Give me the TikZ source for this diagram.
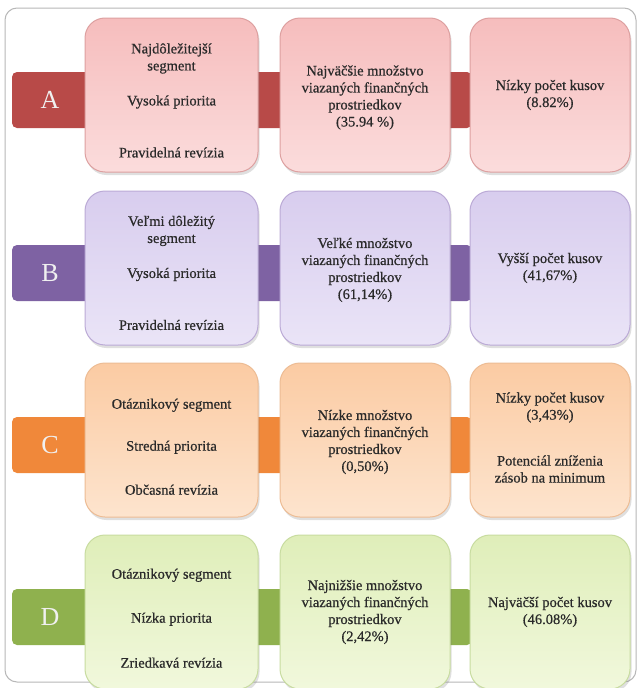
\documentclass[tikz,border=0pt]{standalone}
\usepackage{fontspec}
\setmainfont{Liberation Serif}
\usetikzlibrary{shadows}
\definecolor{txt}{HTML}{2A2A2A}
\definecolor{frameC}{HTML}{B8B8B8}
\definecolor{bandA}{HTML}{B84A48}
\definecolor{bandB}{HTML}{7E62A3}
\definecolor{bandC}{HTML}{F0883A}
\definecolor{bandD}{HTML}{8FB14E}
\definecolor{topA}{HTML}{F6BDBD}\definecolor{botA}{HTML}{FBDCDC}\definecolor{brdA}{HTML}{DDA0A0}
\definecolor{topB}{HTML}{D8CDEE}\definecolor{botB}{HTML}{EAE4F7}\definecolor{brdB}{HTML}{BBAAD6}
\definecolor{topC}{HTML}{FBCBA3}\definecolor{botC}{HTML}{FDE4CE}\definecolor{brdC}{HTML}{EDBC94}
\definecolor{topD}{HTML}{DFEEB9}\definecolor{botD}{HTML}{F1F8DC}\definecolor{brdD}{HTML}{C8DCA0}
\newcommand{\tstrut}[1]{\rule{0pt}{#1pt}}
\tikzset{
  cell/.style={rounded corners=20pt, minimum height=154pt, line width=1pt,
    drop shadow={shadow xshift=1.5pt, shadow yshift=-3pt, opacity=0.25},
    align=center, text=txt, font=\fontsize{14.5}{17}\selectfont\addfontfeatures{FakeBold=0.6}, inner sep=2pt},
  cellA/.style={cell, draw=brdA, top color=topA, bottom color=botA},
  cellB/.style={cell, draw=brdB, top color=topB, bottom color=botB},
  cellC/.style={cell, draw=brdC, top color=topC, bottom color=botC},
  cellD/.style={cell, draw=brdD, top color=topD, bottom color=botD},
  w1/.style={minimum width=173pt},
  w2/.style={minimum width=170pt},
  w3/.style={minimum width=160pt},
  band/.style={rounded corners=5pt, minimum height=56pt, minimum width=460pt, inner sep=0pt},
  letter/.style={font=\fontsize{26}{26}\selectfont, text=white!88!gray},
}
\begin{document}
\begin{tikzpicture}[x=1pt,y=-1pt]
\useasboundingbox (0,0) rectangle (639,688);
\fill[white] (0,0) rectangle (639,688);
\draw[frameC, line width=1pt, rounded corners=12pt] (5,8) rectangle (636,682);

% Row A
\node[band, fill=bandA] (bA) at (242,100) {};
\node[letter] (lA) at (50,100) {A};
\node[cellA, w1] (a1) at (171.5,95) {\tstrut{21}Najdôležitejší\\segment\\[18pt]Vysoká priorita\\[35pt]Pravidelná revízia};
\node[cellA, w2] (a2) at (365,95) {\tstrut{15}Najväčšie množstvo\\viazaných finančných\\prostriedkov\\(35.94 \%)};
\node[cellA, w3] (a3) at (550,95) {Nízky počet kusov\\(8.82\%)};

% Row B
\node[band, fill=bandB] (bB) at (242,273) {};
\node[letter] (lB) at (50,273) {B};
\node[cellB, w1] (b1) at (171.5,268) {\tstrut{20}Veľmi dôležitý\\segment\\[18pt]Vysoká priorita\\[35pt]Pravidelná revízia};
\node[cellB, w2] (b2) at (365,268) {\tstrut{14}Veľké množstvo\\viazaných finančných\\prostriedkov\\(61,14\%)};
\node[cellB, w3] (b3) at (550,268) {Vyšší počet kusov\\(41,67\%)};

% Row C
\node[band, fill=bandC] (bC) at (242,445) {};
\node[letter] (lC) at (50,445) {C};
\node[cellC, w1] (c1) at (171.5,440) {\tstrut{23.5}Otáznikový segment\\[25pt]Stredná priorita\\[27pt]Občasná revízia};
\node[cellC, w2] (c2) at (365,440) {\tstrut{14}Nízke množstvo\\viazaných finančných\\prostriedkov\\(0,50\%)};
\node[cellC, w3] (c3) at (550,440) {Nízky počet kusov\\(3,43\%)\\[29pt]Potenciál zníženia\\zásob na minimum\rule[-5pt]{0pt}{5pt}};

% Row D
\node[band, fill=bandD] (bD) at (242,617) {};
\node[letter] (lD) at (50,617) {D};
\node[cellD, w1] (d1) at (171.5,612) {\tstrut{22.5}Otáznikový segment\\[27pt]Nízka priorita\\[28pt]Zriedkavá revízia};
\node[cellD, w2] (d2) at (365,612) {Najnižšie množstvo\\viazaných finančných\\prostriedkov\\(2,42\%)};
\node[cellD, w3] (d3) at (550,612) {Najväčší počet kusov\\(46.08\%)};
\end{tikzpicture}
\end{document}
